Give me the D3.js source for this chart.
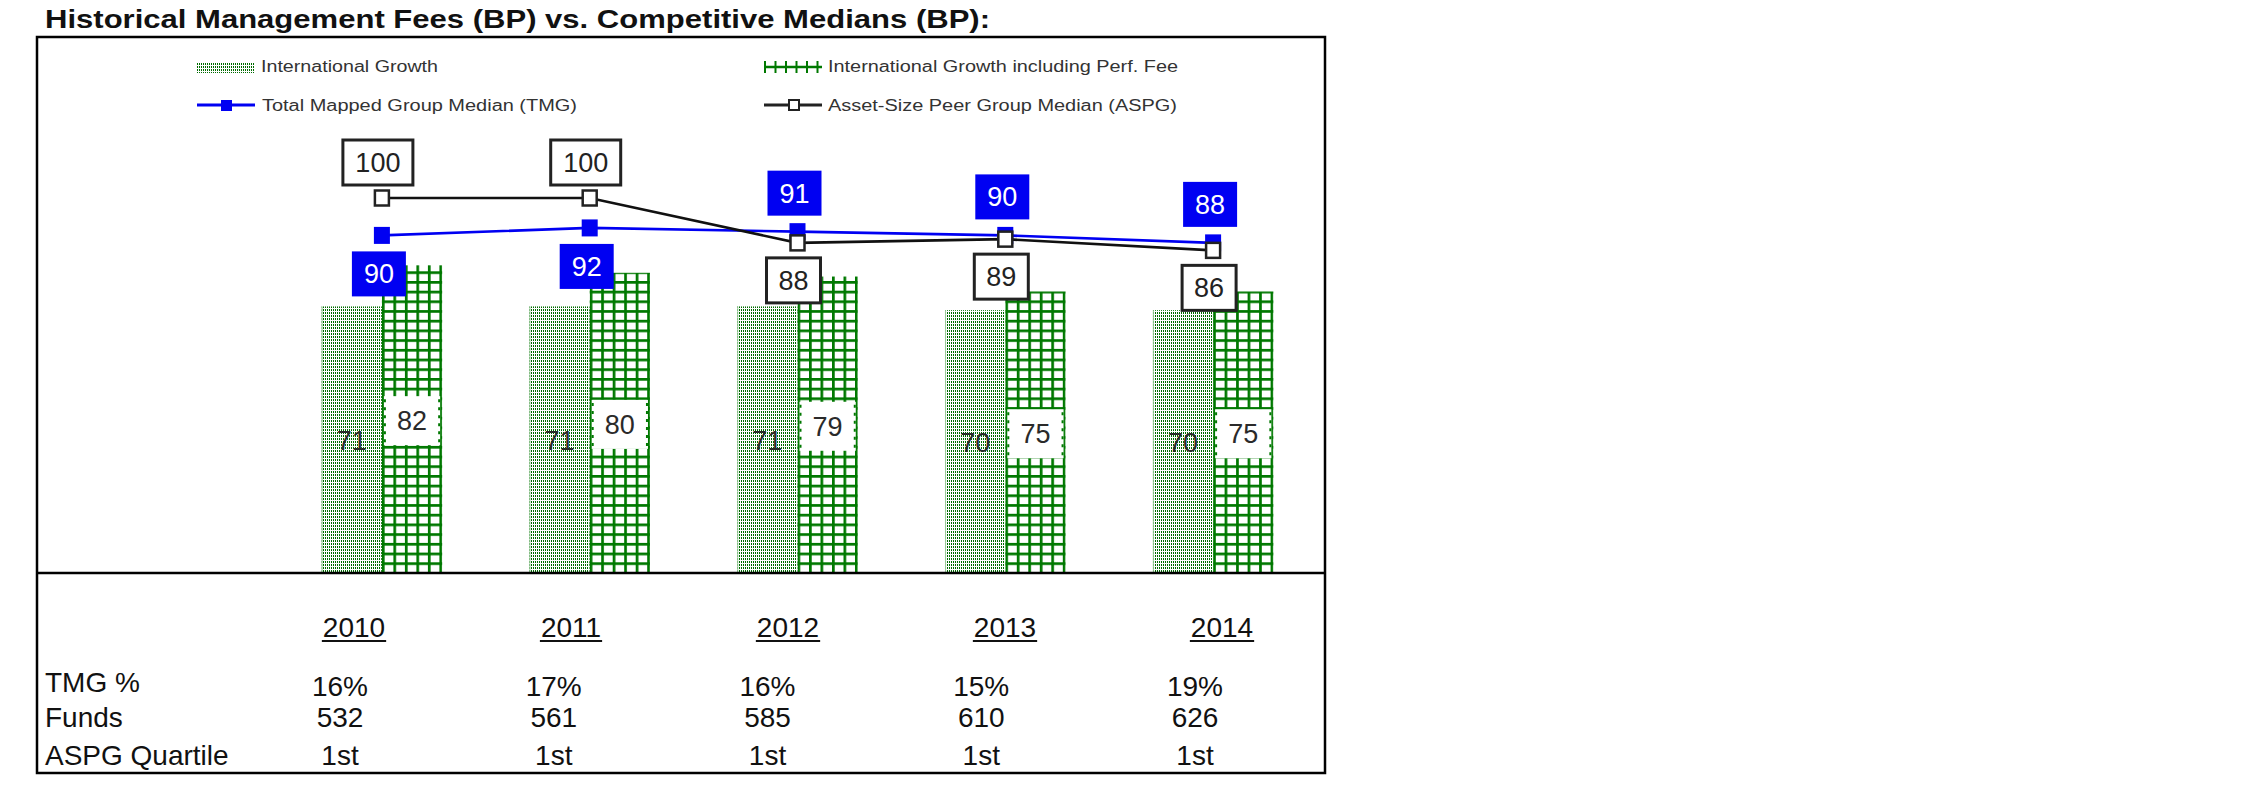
<!DOCTYPE html>
<html>
<head>
<meta charset="utf-8">
<script src="https://cdn.jsdelivr.net/npm/d3@7"></script>
<style>
  html, body { margin: 0; padding: 0; background: #fff; }
  svg { display: block; }
  text { font-family: "Liberation Sans", Arial, Helvetica, sans-serif; }
</style>
</head>
<body>
<svg id="chart" width="2251" height="798"></svg>
<script>
// ---- data ----
const years = ['2010', '2011', '2012', '2013', '2014'];
const intlGrowth = [71, 71, 71, 70, 70];
const intlGrowthPerf = [82, 80, 79, 75, 75];
const tmgMedian = [90, 92, 91, 90, 88];
const aspgMedian = [100, 100, 88, 89, 86];
const tmgPct = ['16%', '17%', '16%', '15%', '19%'];
const funds = ['532', '561', '585', '610', '626'];
const aspgQuartile = ['1st', '1st', '1st', '1st', '1st'];
const rowLabels = ['TMG %', 'Funds', 'ASPG Quartile'];
const legendLabels = ['International Growth', 'International Growth including Perf. Fee',
  'Total Mapped Group Median (TMG)', 'Asset-Size Peer Group Median (ASPG)'];
const title = 'Historical Management Fees (BP) vs. Competitive Medians (BP):';

// ---- setup ----
const svg = d3.select('#chart');
const GREEN = '#007800';
const DOTGREEN = '#006a00';
const BLUE = '#0000f2';
const defs = svg.append('defs');

// dotted pattern
const dp = defs.append('pattern').attr('id', 'dots').attr('patternUnits', 'userSpaceOnUse')
  .attr('width', 2).attr('height', 3);
dp.append('rect').attr('width', 2).attr('height', 3).attr('fill', '#fff');
dp.append('rect').attr('x', 1).attr('y', 0).attr('width', 1).attr('height', 2).attr('fill', DOTGREEN);

// scales
const y = d3.scaleLinear().domain([0, 100]).range([572, 198]);
const x = d3.scaleBand().domain(years).range([278, 1317]).paddingInner(0.42).paddingOuter(0.21);
const xs = d3.scaleBand().domain(['intl', 'perf']).range([0, x.bandwidth()]);
const cx = yr => x(yr) + x.bandwidth() / 2;

// grid patterns per bar (aligned to bar left edge)
years.forEach((yr, i) => {
  const gp = defs.append('pattern').attr('id', 'grid' + i).attr('patternUnits', 'userSpaceOnUse')
    .attr('x', x(yr) + xs('perf')).attr('y', y(0)).attr('width', 11.5).attr('height', 9.7);
  gp.append('rect').attr('width', 11.5).attr('height', 9.7).attr('fill', '#fff');
  gp.append('rect').attr('x', 0).attr('width', 2.7).attr('height', 9.7).attr('fill', GREEN);
  gp.append('rect').attr('y', 0).attr('width', 11.5).attr('height', 2.7).attr('fill', GREEN);
});

// title
svg.append('text').attr('x', 45).attr('y', 28).attr('font-size', 26).attr('font-weight', 'bold')
  .attr('fill', '#111').attr('textLength', 945).attr('lengthAdjust', 'spacingAndGlyphs').text(title);

// frame
svg.append('rect').attr('x', 37).attr('y', 37).attr('width', 1288).attr('height', 736)
  .attr('fill', 'none').attr('stroke', '#000').attr('stroke-width', 2.5);

// ---- legend ----
const lg = svg.append('g');
lg.append('rect').attr('x', 197).attr('y', 62).attr('width', 58).attr('height', 11).attr('fill', 'url(#dots)');
lg.append('line').attr('x1', 764).attr('x2', 822).attr('y1', 67).attr('y2', 67)
  .attr('stroke', GREEN).attr('stroke-width', 2.5);
d3.range(765, 823, 10.5).forEach(px => {
  lg.append('line').attr('x1', px).attr('x2', px).attr('y1', 61).attr('y2', 73)
    .attr('stroke', GREEN).attr('stroke-width', 2);
});
lg.append('line').attr('x1', 197).attr('x2', 255).attr('y1', 105).attr('y2', 105)
  .attr('stroke', BLUE).attr('stroke-width', 3);
lg.append('rect').attr('x', 221).attr('y', 100).attr('width', 11).attr('height', 11).attr('fill', BLUE);
lg.append('line').attr('x1', 764).attr('x2', 822).attr('y1', 105).attr('y2', 105)
  .attr('stroke', '#222').attr('stroke-width', 3);
lg.append('rect').attr('x', 789).attr('y', 100).attr('width', 10).attr('height', 10)
  .attr('fill', '#fff').attr('stroke', '#222').attr('stroke-width', 2);
const legendText = [
  {t: legendLabels[0], x: 261, y: 72, w: 177},
  {t: legendLabels[1], x: 828, y: 72, w: 350},
  {t: legendLabels[2], x: 262, y: 111, w: 315},
  {t: legendLabels[3], x: 828, y: 111, w: 349}
];
lg.selectAll('text.lt').data(legendText).join('text').attr('class', 'lt')
  .attr('x', d => d.x).attr('y', d => d.y).attr('font-size', 16).attr('fill', '#333')
  .attr('textLength', d => d.w).attr('lengthAdjust', 'spacingAndGlyphs').text(d => d.t);

// ---- bars ----
const barData = years.map((yr, i) => ({yr, i, a: intlGrowth[i], b: intlGrowthPerf[i]}));
const bars = svg.append('g');
bars.selectAll('rect.intl').data(barData).join('rect').attr('class', 'intl')
  .attr('x', d => x(d.yr) + xs('intl')).attr('width', xs.bandwidth())
  .attr('y', d => y(d.a)).attr('height', d => y(0) - y(d.a))
  .attr('fill', 'url(#dots)');
bars.selectAll('line.intlEdge').data(barData).join('line').attr('class', 'intlEdge')
  .attr('x1', d => x(d.yr) + xs('intl') + 0.5).attr('x2', d => x(d.yr) + xs('intl') + 0.5)
  .attr('y1', d => y(d.a)).attr('y2', y(0)).attr('stroke', '#9c9').attr('stroke-width', 1);
bars.selectAll('rect.perf').data(barData).join('rect').attr('class', 'perf')
  .attr('x', d => x(d.yr) + xs('perf')).attr('width', xs.bandwidth())
  .attr('y', d => y(d.b)).attr('height', d => y(0) - y(d.b))
  .attr('fill', d => `url(#grid${d.i})`);

bars.selectAll('text.intlLbl').data(barData).join('text').attr('class', 'intlLbl')
  .attr('x', d => x(d.yr) + xs('intl') + xs.bandwidth() / 2)
  .attr('y', d => (y(d.a) + y(0)) / 2 + 1).attr('dy', '0.35em')
  .attr('text-anchor', 'middle').attr('font-size', 27).attr('fill', '#2a2a2a')
  .text(d => d.a);
const boxH = 49;
bars.selectAll('rect.perfBox').data(barData).join('rect').attr('class', 'perfBox')
  .attr('x', d => x(d.yr) + xs('perf') + 2).attr('width', xs.bandwidth() - 4)
  .attr('y', d => (y(d.b) + y(0)) / 2 + 2 - boxH / 2).attr('height', boxH).attr('fill', '#fff');
['l', 'r'].forEach(side => {
  bars.selectAll('line.pe' + side).data(barData).join('line').attr('class', 'pe' + side)
    .attr('x1', d => x(d.yr) + xs('perf') + (side === 'l' ? 3 : xs.bandwidth() - 3))
    .attr('x2', d => x(d.yr) + xs('perf') + (side === 'l' ? 3 : xs.bandwidth() - 3))
    .attr('y1', d => (y(d.b) + y(0)) / 2 + 2 - boxH / 2 + 3)
    .attr('y2', d => (y(d.b) + y(0)) / 2 + 2 + boxH / 2 - 3)
    .attr('stroke', GREEN).attr('stroke-width', 2).attr('stroke-dasharray', '3,5');
});
bars.selectAll('text.perfLbl').data(barData).join('text').attr('class', 'perfLbl')
  .attr('x', d => x(d.yr) + xs('perf') + xs.bandwidth() / 2)
  .attr('y', d => (y(d.b) + y(0)) / 2 + 2).attr('dy', '0.35em')
  .attr('text-anchor', 'middle').attr('font-size', 27).attr('fill', '#2a2a2a')
  .text(d => d.b);

// baseline
svg.append('line').attr('x1', 37).attr('x2', 1325).attr('y1', 573).attr('y2', 573)
  .attr('stroke', '#000').attr('stroke-width', 2.5);

// ---- lines ----
const lineGen = d3.line().x(d => cx(d.yr)).y(d => y(d.v));
const tmgData = years.map((yr, i) => ({yr, v: tmgMedian[i], other: aspgMedian[i]}));
const aspgData = years.map((yr, i) => ({yr, v: aspgMedian[i], other: tmgMedian[i]}));

svg.append('path').datum(tmgData).attr('d', lineGen).attr('fill', 'none')
  .attr('stroke', BLUE).attr('stroke-width', 2.6);
svg.selectAll('rect.tmgM').data(tmgData).join('rect').attr('class', 'tmgM')
  .attr('x', d => cx(d.yr) - 8).attr('y', d => y(d.v) - 8.5).attr('width', 16).attr('height', 17)
  .attr('fill', BLUE);

svg.append('path').datum(aspgData).attr('d', lineGen).attr('fill', 'none')
  .attr('stroke', '#111').attr('stroke-width', 2.6);
svg.selectAll('rect.aspgM').data(aspgData).join('rect').attr('class', 'aspgM')
  .attr('x', d => cx(d.yr) - 7).attr('y', d => y(d.v) - 7.5).attr('width', 14).attr('height', 15)
  .attr('fill', '#fff').attr('stroke', '#222').attr('stroke-width', 2.5);

// ---- point labels ----
const lblH = 45;
function boxW(v) { return String(v).length >= 3 ? 70 : 54; }
const tmgLbl = svg.selectAll('g.tmgL').data(tmgData).join('g').attr('class', 'tmgL')
  .attr('transform', d => {
    const above = d.v > d.other;
    const top = above ? y(d.v) - 16 - lblH : y(d.v) + 16;
    return `translate(${cx(d.yr) - 3},${top})`;
  });
tmgLbl.append('rect').attr('x', d => -boxW(d.v) / 2).attr('width', d => boxW(d.v))
  .attr('height', lblH).attr('fill', BLUE);
tmgLbl.append('text').attr('y', lblH / 2).attr('dy', '0.35em').attr('text-anchor', 'middle')
  .attr('font-size', 27).attr('fill', '#fff').text(d => d.v);

const aspgLbl = svg.selectAll('g.aspgL').data(aspgData).join('g').attr('class', 'aspgL')
  .attr('transform', d => {
    const above = d.v > d.other;
    const top = above ? y(d.v) - 13 - lblH : y(d.v) + 15;
    return `translate(${cx(d.yr) - 4},${top})`;
  });
aspgLbl.append('rect').attr('x', d => -boxW(d.v) / 2).attr('width', d => boxW(d.v))
  .attr('height', lblH).attr('fill', '#fff').attr('stroke', '#222').attr('stroke-width', 3);
aspgLbl.append('text').attr('y', lblH / 2).attr('dy', '0.35em').attr('text-anchor', 'middle')
  .attr('font-size', 27).attr('fill', '#222').text(d => d.v);

// ---- table ----
const colYear = d3.scalePoint().domain(years).range([354, 1222]);
const colVal = d3.scalePoint().domain(years).range([340, 1195]);
const yt = svg.selectAll('text.yr').data(years).join('text').attr('class', 'yr')
  .attr('x', d => colYear(d)).attr('y', 637).attr('text-anchor', 'middle')
  .attr('font-size', 28).attr('fill', '#111').text(d => d);
yt.each(function(d) {
  const w = this.getComputedTextLength();
  svg.append('line').attr('x1', colYear(d) - w / 2 - 1).attr('x2', colYear(d) + w / 2 + 1)
    .attr('y1', 641).attr('y2', 641).attr('stroke', '#111').attr('stroke-width', 2);
});
const rowBase = [692, 727, 765];
const valBase = [696, 727, 765];
svg.selectAll('text.rl').data(rowLabels).join('text').attr('class', 'rl')
  .attr('x', 45).attr('y', (d, i) => rowBase[i]).attr('font-size', 28).attr('fill', '#111').text(d => d);
[tmgPct, funds, aspgQuartile].forEach((row, r) => {
  svg.selectAll('text.v' + r).data(row).join('text').attr('class', 'v' + r)
    .attr('x', (d, i) => colVal(years[i])).attr('y', valBase[r]).attr('text-anchor', 'middle')
    .attr('font-size', 28).attr('fill', '#111').text(d => d);
});
</script>
</body>
</html>
